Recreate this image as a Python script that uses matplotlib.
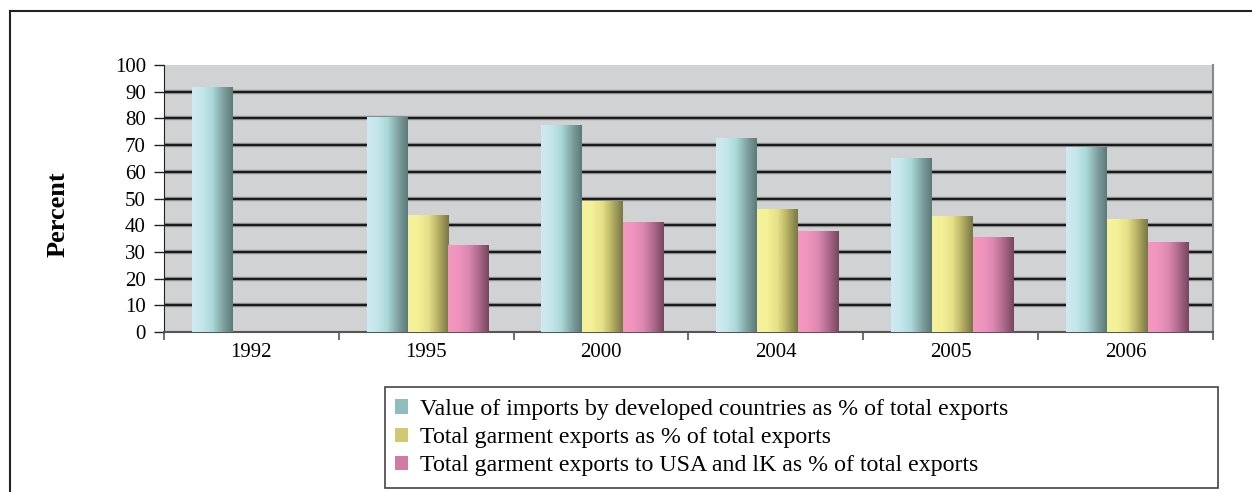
import numpy as np
import matplotlib
matplotlib.use("Agg")
import matplotlib.pyplot as plt
from matplotlib.colors import LinearSegmentedColormap
from matplotlib.patches import Rectangle, Patch
from matplotlib.lines import Line2D

years = ["1992", "1995", "2000", "2004", "2005", "2006"]
imports_dev = [91.5, 80.2, 77.3, 72.4, 64.8, 69.0]
garment_total = [np.nan, 43.8, 49.0, 46.0, 43.4, 42.3]
garment_usa_uk = [np.nan, 32.4, 41.1, 37.7, 35.5, 33.6]
series_labels = [
    "Value of imports by developed countries as % of total exports",
    "Total garment exports as % of total exports",
    "Total garment exports to USA and lK as % of total exports",
]
y_ticks = list(range(0, 101, 10))

grads = [
    ["#cfeaf0", "#c4e6ea", "#a8d9d8", "#82a3a3", "#5b7977"],
    ["#f6f29c", "#f4f096", "#e6e088", "#b3ad62", "#777645"],
    ["#f498c2", "#f094be", "#dc88b2", "#ad6a8b", "#774560"],
]
legend_cols = ["#8fbcbc", "#cfca72", "#d07aa4"]

plt.rcParams["font.family"] = ["Liberation Serif", "DejaVu Serif"]

fig = plt.figure(figsize=(12.52, 4.92), dpi=100)
ax = fig.add_axes([164/1252, 1-332/492, (1213-164)/1252, (332-65)/492])
ax.set_facecolor("#d1d2d4")

x = np.arange(len(years))
w = 0.234
data = [imports_dev, garment_total, garment_usa_uk]
grad_img = np.linspace(0, 1, 256).reshape(1, -1)
for i, (vals, g) in enumerate(zip(data, grads)):
    cmap = LinearSegmentedColormap.from_list(f"g{i}", g)
    bars = ax.bar(x + (i - 1) * w + 0.01, vals, w, color="none", edgecolor="none", zorder=3)
    for b, v in zip(bars, vals):
        if np.isnan(v):
            continue
        x0 = b.get_x(); bw = b.get_width(); h = b.get_height()
        ax.imshow(grad_img, extent=[x0, x0 + bw, 0, h], cmap=cmap,
                  aspect="auto", zorder=3, interpolation="bilinear")

ax.set_xlim(-0.5, len(years) - 0.5)
ax.set_ylim(0, 100)
ax.set_yticks(y_ticks)
ax.set_yticklabels([str(t) for t in y_ticks], fontsize=15)
for t in y_ticks[1:-1]:
    ax.axhline(t, color="#9a9a9a", lw=3.2, zorder=1)
    ax.axhline(t, color="#1a1a1a", lw=1.6, zorder=1.5)

ax.set_xticks(x)
ax.set_xticklabels(years, fontsize=15)
ax.tick_params(axis="x", length=0, pad=8)
ax.set_xticks(np.arange(-0.5, len(years), 1.0), minor=True)
ax.tick_params(axis="x", which="minor", length=6, width=1.2, color="#555555", direction="out")
ax.tick_params(axis="y", length=7, width=1, color="#222222", pad=6)

ax.spines["top"].set_visible(False)
ax.spines["right"].set_color("#888888")
ax.spines["right"].set_linewidth(1.5)
ax.spines["left"].set_color("#222222")
ax.spines["bottom"].set_color("#555555")
ax.spines["bottom"].set_linewidth(1.5)

ax.set_ylabel("Percent", fontsize=19, fontweight="bold")
ax.yaxis.set_label_coords((70 - 164) / 1049, (332 - 214) / 267)

# outer frame
fig.add_artist(Line2D([10/1252, 10/1252], [0, 1-11/492], transform=fig.transFigure, color="#222222", lw=1.5))
fig.add_artist(Line2D([10/1252, 1], [1-11/492, 1-11/492], transform=fig.transFigure, color="#222222", lw=1.5))

# legend box
fig.add_artist(Rectangle((385/1252, 1-488/492), (1218-385)/1252, (488-387)/492,
                         transform=fig.transFigure, fill=False, edgecolor="#444444", lw=1.2))
handles = [Patch(facecolor=c, edgecolor="none") for c in legend_cols]
fig.legend(handles, series_labels, loc="upper left",
           bbox_to_anchor=(395/1252, 1-399/492), frameon=False, fontsize=17.2,
           handlelength=0.55, handleheight=0.55, handletextpad=0.5, labelspacing=0.3,
           borderaxespad=0, borderpad=0.0)

fig.savefig("out.png", dpi=100)
